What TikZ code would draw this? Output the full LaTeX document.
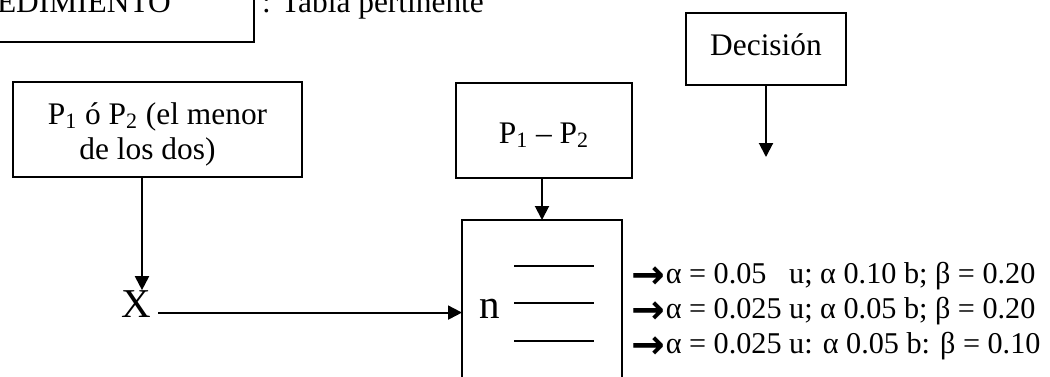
\documentclass[tikz,border=0pt]{standalone}
\usepackage{graphicx}
\usepackage{fontspec}
\setmainfont{Liberation Serif}
\newfontfamily\arrowfont{DejaVu Sans}
\usetikzlibrary{arrows.meta}
\newcommand{\flecha}{\raisebox{-2.5pt}{\scalebox{1.55}{\arrowfont\bfseries\fontsize{13}{13}\selectfont →}}\hspace{0.5pt}}

\begin{document}
\begin{tikzpicture}[x=0.5pt, y=-0.5pt,
  every node/.style={font=\fontsize{15.7}{17.5}\selectfont, outer sep=0pt},
  box/.style={draw, line width=1pt, inner sep=0pt, align=center},
  big/.style={font=\fontsize{20.5}{24}\selectfont, inner sep=0pt},
  arr/.style={-{Triangle[width=7pt,length=7pt]}, line width=1pt}]

\useasboundingbox (0,0) rectangle (1050,376);

% Top box, cut off by the page
\node[box, minimum width=137pt, minimum height=36pt] (proc) at (117,6) {};
\node[anchor=base west, inner sep=0pt] (proctext) at (-3,12) {EDIMIENTO};
\node[anchor=base west, inner sep=0pt] (tabla) at (262,12) {: Tabla pertinente};

% Boxes of the first row
\node[box, minimum width=144.5pt, minimum height=47.5pt, text height=33pt, text depth=3.3pt]
  (menor) at (157.5,129.5) {P\textsubscript{1} ó P\textsubscript{2} (el menor\\ de los dos)\hspace*{10pt}};
\node[box, minimum width=88pt, minimum height=47.5pt, text height=14pt, text depth=1.5pt]
  (dif) at (544,130.5) {P\textsubscript{1} – P\textsubscript{2}};
\node[box, minimum width=80pt, minimum height=36pt, text height=8pt, text depth=2pt]
  (decision) at (766,49) {Decisión};
\coordinate (decend) at (766,157);

% X and the box of n
\node[big, anchor=base] (X) at (136.5,317) {X};
\node[box, minimum width=80pt, minimum height=95pt] (nbox) at (542,315) {};
\node[big, anchor=base] (n) at (489.5,318) {n};
\foreach \y in {266,303,341}
  \draw[line width=0.6pt] (514,\y) -- (594,\y);

% Values of alpha and beta
\node[anchor=base west, align=left, inner sep=0pt, font=\fontsize{15.1}{17.5}\selectfont]
  (alfas) at (631,353)
  {\flecha α = 0.05\ \ \ u; α 0.10 b; β = 0.20\\
   \flecha α = 0.025 u; α 0.05 b; β = 0.20\\
   \flecha α = 0.025 u: α 0.05 b: β = 0.10};

% Arrows
\coordinate (xin) at ([xshift=2.75pt]X.north);
\coordinate (xout) at ([xshift=3.5pt,yshift=-4.5pt]X.east);
\draw[arr] (menor.south -| xin) -- (xin);
\draw[arr] (xout) -- (xout -| nbox.west);
\draw[arr] (dif.south -| nbox.north) -- (nbox.north);
\draw[arr] (decision.south) -- (decend);

\end{tikzpicture}
\end{document}
